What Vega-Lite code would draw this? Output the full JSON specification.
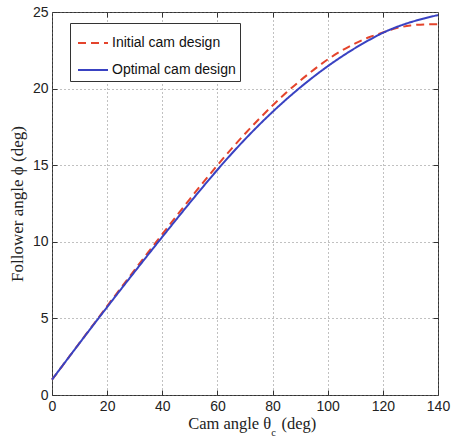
{
  "$schema": "https://vega.github.io/schema/vega-lite/v6.json",
  "width": 386,
  "height": 383,
  "autosize": {"type": "none"},
  "padding": {"left": 52, "top": 12, "right": 13, "bottom": 45},
  "background": "white",
  "config": {
    "view": {"stroke": "#333333", "strokeWidth": 1},
    "axis": {
      "labelFont": "Liberation Sans",
      "labelFontSize": 14,
      "labelColor": "#222222",
      "titleFont": "Liberation Serif",
      "titleFontSize": 17,
      "titleFontWeight": "normal",
      "titleColor": "#222222",
      "domain": false,
      "tickColor": "#333333",
      "tickSize": -5,
      "labelPadding": 9,
      "gridColor": "#777777",
      "gridDash": [1, 3],
      "gridWidth": 1,
      "gridOpacity": 0.9
    },
    "legend": {
      "orient": "none",
      "legendX": 18,
      "legendY": 11,
      "fillColor": "white",
      "strokeColor": "#333333",
      "padding": 4,
      "labelFont": "Liberation Sans",
      "labelFontSize": 14,
      "labelColor": "#111111",
      "symbolType": "stroke",
      "symbolSize": 900,
      "symbolStrokeWidth": 2,
      "symbolOffset": 3,
      "rowPadding": 4,
      "labelOffset": 3
    }
  },
  "data": {
    "values": [
      {"theta": 0, "phi": 1.0, "design": "Initial cam design"},
      {"theta": 5, "phi": 2.2, "design": "Initial cam design"},
      {"theta": 10, "phi": 3.4, "design": "Initial cam design"},
      {"theta": 15, "phi": 4.6, "design": "Initial cam design"},
      {"theta": 20, "phi": 5.8, "design": "Initial cam design"},
      {"theta": 25, "phi": 6.99, "design": "Initial cam design"},
      {"theta": 30, "phi": 8.17, "design": "Initial cam design"},
      {"theta": 35, "phi": 9.34, "design": "Initial cam design"},
      {"theta": 40, "phi": 10.5, "design": "Initial cam design"},
      {"theta": 45, "phi": 11.65, "design": "Initial cam design"},
      {"theta": 50, "phi": 12.79, "design": "Initial cam design"},
      {"theta": 55, "phi": 13.91, "design": "Initial cam design"},
      {"theta": 60, "phi": 15.0, "design": "Initial cam design"},
      {"theta": 65, "phi": 16.05, "design": "Initial cam design"},
      {"theta": 70, "phi": 17.05, "design": "Initial cam design"},
      {"theta": 75, "phi": 18.0, "design": "Initial cam design"},
      {"theta": 80, "phi": 18.9, "design": "Initial cam design"},
      {"theta": 85, "phi": 19.74, "design": "Initial cam design"},
      {"theta": 90, "phi": 20.52, "design": "Initial cam design"},
      {"theta": 95, "phi": 21.24, "design": "Initial cam design"},
      {"theta": 100, "phi": 21.9, "design": "Initial cam design"},
      {"theta": 105, "phi": 22.47, "design": "Initial cam design"},
      {"theta": 110, "phi": 22.95, "design": "Initial cam design"},
      {"theta": 115, "phi": 23.35, "design": "Initial cam design"},
      {"theta": 120, "phi": 23.66, "design": "Initial cam design"},
      {"theta": 125, "phi": 23.95, "design": "Initial cam design"},
      {"theta": 130, "phi": 24.12, "design": "Initial cam design"},
      {"theta": 135, "phi": 24.19, "design": "Initial cam design"},
      {"theta": 140, "phi": 24.2, "design": "Initial cam design"},
      {"theta": 0, "phi": 1.0, "design": "Optimal cam design"},
      {"theta": 5, "phi": 2.2, "design": "Optimal cam design"},
      {"theta": 10, "phi": 3.39, "design": "Optimal cam design"},
      {"theta": 15, "phi": 4.57, "design": "Optimal cam design"},
      {"theta": 20, "phi": 5.74, "design": "Optimal cam design"},
      {"theta": 25, "phi": 6.9, "design": "Optimal cam design"},
      {"theta": 30, "phi": 8.05, "design": "Optimal cam design"},
      {"theta": 35, "phi": 9.19, "design": "Optimal cam design"},
      {"theta": 40, "phi": 10.32, "design": "Optimal cam design"},
      {"theta": 45, "phi": 11.44, "design": "Optimal cam design"},
      {"theta": 50, "phi": 12.55, "design": "Optimal cam design"},
      {"theta": 55, "phi": 13.64, "design": "Optimal cam design"},
      {"theta": 60, "phi": 14.7, "design": "Optimal cam design"},
      {"theta": 65, "phi": 15.72, "design": "Optimal cam design"},
      {"theta": 70, "phi": 16.69, "design": "Optimal cam design"},
      {"theta": 75, "phi": 17.61, "design": "Optimal cam design"},
      {"theta": 80, "phi": 18.48, "design": "Optimal cam design"},
      {"theta": 85, "phi": 19.3, "design": "Optimal cam design"},
      {"theta": 90, "phi": 20.07, "design": "Optimal cam design"},
      {"theta": 95, "phi": 20.79, "design": "Optimal cam design"},
      {"theta": 100, "phi": 21.46, "design": "Optimal cam design"},
      {"theta": 105, "phi": 22.08, "design": "Optimal cam design"},
      {"theta": 110, "phi": 22.65, "design": "Optimal cam design"},
      {"theta": 115, "phi": 23.17, "design": "Optimal cam design"},
      {"theta": 120, "phi": 23.64, "design": "Optimal cam design"},
      {"theta": 125, "phi": 24.02, "design": "Optimal cam design"},
      {"theta": 130, "phi": 24.33, "design": "Optimal cam design"},
      {"theta": 135, "phi": 24.58, "design": "Optimal cam design"},
      {"theta": 140, "phi": 24.8, "design": "Optimal cam design"}
    ]
  },
  "layer": [
    {
      "mark": {"type": "line", "strokeWidth": 2, "interpolate": "monotone"},
      "encoding": {
        "x": {
          "field": "theta",
          "type": "quantitative",
          "scale": {"domain": [0, 140], "nice": false},
          "axis": {"values": [0, 20, 40, 60, 80, 100, 120, 140], "title": null, "labelFlush": false}
        },
        "y": {
          "field": "phi",
          "type": "quantitative",
          "scale": {"domain": [0, 25], "nice": false},
          "axis": {"values": [0, 5, 10, 15, 20, 25], "title": "Follower angle ϕ (deg)", "titlePadding": 6, "labelFlush": false}
        },
        "color": {
          "field": "design",
          "type": "nominal",
          "title": null,
          "scale": {"domain": ["Initial cam design", "Optimal cam design"], "range": ["#e4442c", "#3942c2"]}
        },
        "strokeDash": {
          "field": "design",
          "type": "nominal",
          "title": null,
          "scale": {"domain": ["Initial cam design", "Optimal cam design"], "range": [[8, 5], [1, 0]]}
        }
      }
    },
    {
      "mark": {"type": "line", "opacity": 0},
      "encoding": {
        "x": {
          "field": "theta",
          "type": "quantitative",
          "axis": {"orient": "top", "values": [20, 40, 60, 80, 100, 120], "labels": false, "grid": false, "title": null}
        },
        "y": {
          "field": "phi",
          "type": "quantitative",
          "axis": {"orient": "right", "values": [5, 10, 15, 20], "labels": false, "grid": false, "title": null}
        },
        "detail": {"field": "design"}
      }
    },
    {
      "data": {"values": [{"theta": 79.5, "phi": -2.25, "part": "Cam angle θ"}]},
      "mark": {"type": "text", "font": "Liberation Serif", "fontSize": 16.5, "color": "#222222", "clip": false, "align": "right", "baseline": "alphabetic"},
      "encoding": {
        "x": {"field": "theta", "type": "quantitative", "axis": null},
        "y": {"field": "phi", "type": "quantitative", "axis": null},
        "text": {"field": "part"}
      }
    },
    {
      "data": {"values": [{"theta": 80.4, "phi": -2.7, "part": "c"}]},
      "mark": {"type": "text", "font": "Liberation Serif", "fontSize": 10.5, "color": "#222222", "clip": false, "align": "center", "baseline": "alphabetic"},
      "encoding": {
        "x": {"field": "theta", "type": "quantitative", "axis": null},
        "y": {"field": "phi", "type": "quantitative", "axis": null},
        "text": {"field": "part"}
      }
    },
    {
      "data": {"values": [{"theta": 83.2, "phi": -2.25, "part": "(deg)"}]},
      "mark": {"type": "text", "font": "Liberation Serif", "fontSize": 16.5, "color": "#222222", "clip": false, "align": "left", "baseline": "alphabetic"},
      "encoding": {
        "x": {"field": "theta", "type": "quantitative", "axis": null},
        "y": {"field": "phi", "type": "quantitative", "axis": null},
        "text": {"field": "part"}
      }
    }
  ],
  "resolve": {"axis": {"x": "independent", "y": "independent"}}
}
